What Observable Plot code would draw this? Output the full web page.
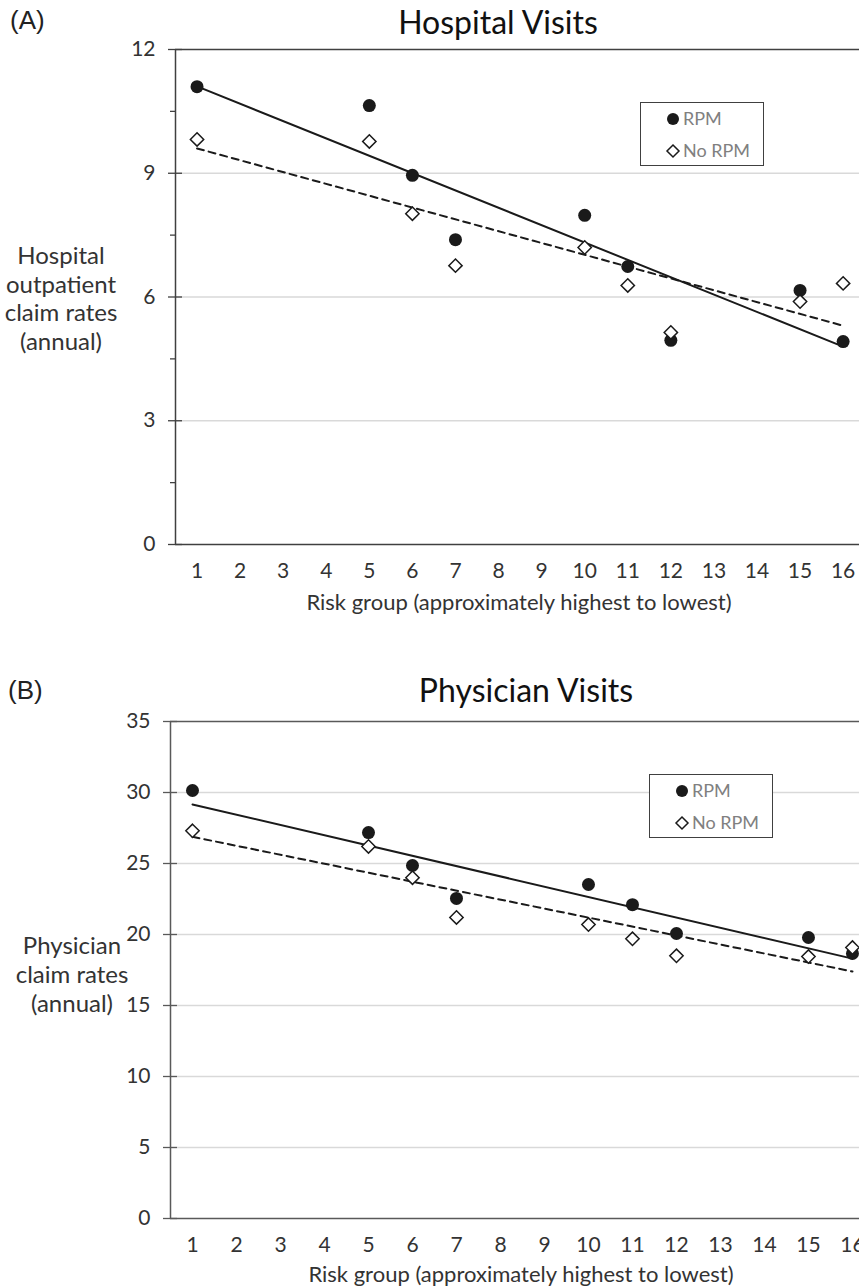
<!DOCTYPE html>
<html><head><meta charset="utf-8">
<script src="https://cdn.jsdelivr.net/npm/d3@7"></script>
<script src="https://cdn.jsdelivr.net/npm/@observablehq/plot@0.6"></script>
<style>
body{margin:0;background:#fff;}
#root{position:relative;width:859px;height:1288px;overflow:hidden;font-family:Lato,sans-serif;color:#333;}
.abs{position:absolute;white-space:nowrap;}
.panel-label{font-family:"Liberation Sans",Arial,sans-serif;font-size:26px;line-height:26px;color:#222;}
.title{font-size:32px;line-height:32px;color:#111;text-align:center;transform:translateX(-50%);}
.ylab{font-size:24px;text-align:center;transform:translateX(-50%);color:#333;}
.xlab{font-size:22px;line-height:22px;transform:translateX(-50%);color:#333;}
.legend{border:1px solid #404040;background:#fff;box-sizing:border-box;width:124px;height:64px;}
.legend span{position:absolute;left:42px;font-size:18px;line-height:18px;color:#808080;}
.legend svg{position:absolute;left:0;top:0;}
</style></head><body><div id="root"></div>
<script>
// ---- data ----
const groups = [1, 5, 6, 7, 10, 11, 12, 15, 16];
const hospRPM = [11.10, 10.64, 8.95, 7.39, 7.98, 6.74, 4.95, 6.16, 4.92];
const hospNoRPM = [9.82, 9.77, 8.02, 6.76, 7.20, 6.28, 5.14, 5.89, 6.33];
const physRPM = [30.14, 27.18, 24.86, 22.54, 23.52, 22.10, 20.07, 19.79, 18.66];
const physNoRPM = [27.3, 26.2, 24.0, 21.2, 20.7, 19.7, 18.5, 18.45, 19.08];
const xTicks = [1, 2, 3, 4, 5, 6, 7, 8, 9, 10, 11, 12, 13, 14, 15, 16];
const hospMajor = [0, 3, 6, 9, 12];
const hospMinor = [1.5, 4.5, 7.5, 10.5];
const hospGrid = [3, 6, 9];
const physMajor = [0, 5, 10, 15, 20, 25, 30, 35];
const physGrid = [5, 10, 15, 20, 25, 30];
const seriesNames = ["RPM", "No RPM"];

const root = document.getElementById("root");
function addDiv(cls, html, left, top, extra) {
  const d = document.createElement("div");
  d.className = "abs " + cls;
  d.innerHTML = html;
  d.style.left = left + "px";
  d.style.top = top + "px";
  if (extra) Object.assign(d.style, extra);
  root.appendChild(d);
  return d;
}

function panel({rpm, norpm, major, minor, grid, xmax, height, mt, mb, ml, axisColor}) {
  const rows = groups.map((g, i) => ({g, rpm: rpm[i], norpm: norpm[i]}));
  const ymax = major[major.length - 1];
  const marks = [
    Plot.gridY(grid, {stroke: "#d9d9d9", strokeOpacity: 1, strokeWidth: 1.3}),
    Plot.ruleY([major[0], ymax], {stroke: axisColor, strokeWidth: 1.5}),
    Plot.ruleX([0.5], {stroke: axisColor, strokeWidth: 1.5}),
    Plot.axisY(major, {tickSize: 14, dx: 7, tickFormat: () => "", stroke: axisColor, strokeWidth: 1.3, label: null}),
  ];
  if (minor) marks.push(Plot.axisY(minor, {tickSize: 5, tickFormat: () => "", stroke: axisColor, strokeWidth: 1.3, label: null}));
  marks.push(
    Plot.axisY(major, {tickSize: 0, tickPadding: 20, fontSize: 21, label: null}),
    Plot.axisX(xTicks, {tickSize: 0, tickPadding: 19, fontSize: 21, label: null}),
    Plot.linearRegressionY(rows, {x: "g", y: "norpm", ci: 0, stroke: "#1a1a1a", strokeWidth: 2, strokeDasharray: "7,5"}),
    Plot.linearRegressionY(rows, {x: "g", y: "rpm", ci: 0, stroke: "#1a1a1a", strokeWidth: 2}),
    Plot.dot(rows, {x: "g", y: "rpm", symbol: "circle", r: 6.5, fill: "#1a1a1a", stroke: "none"}),
    Plot.dot(rows, {x: "g", y: "norpm", symbol: "diamond2", r: 6, fill: "white", stroke: "#1a1a1a", strokeWidth: 1.5})
  );
  return Plot.plot({
    width: 859, height, marginTop: mt, marginBottom: mb, marginLeft: ml, marginRight: 0,
    x: {domain: [0.5, xmax], label: null},
    y: {domain: [0, ymax], label: null},
    style: {fontFamily: "Lato, sans-serif", fontSize: "21px", color: "#333", background: "transparent"},
    marks
  });
}

function legend(left, top) {
  const box = addDiv("legend", "", left, top);
  box.innerHTML = `<svg width="122" height="62">
    <circle cx="32" cy="16" r="6" fill="#1a1a1a"/>
    <path d="M32,42 L38,48 L32,54 L26,48 Z" fill="white" stroke="#1a1a1a" stroke-width="1.5"/>
  </svg><span style="top:6px">${seriesNames[0]}</span><span style="top:38px">${seriesNames[1]}</span>`;
}

// Panel A
const A = panel({rpm: hospRPM, norpm: hospNoRPM, major: hospMajor, minor: hospMinor, grid: hospGrid,
  xmax: 16.38, height: 590, mt: 49, mb: 46, ml: 175, axisColor: "#404040"});
A.style.position = "absolute"; A.style.left = "0px"; A.style.top = "0px";
root.appendChild(A);

// Panel B
const B = panel({rpm: physRPM, norpm: physNoRPM, major: physMajor, minor: null, grid: physGrid,
  xmax: 16.16, height: 638, mt: 71, mb: 70, ml: 170, axisColor: "#595959"});
B.style.position = "absolute"; B.style.left = "0px"; B.style.top = "650px";
root.appendChild(B);

addDiv("panel-label", "(A)", 10, 7);
addDiv("title", "Hospital Visits", 498, 6);
addDiv("ylab", "Hospital<br>outpatient<br>claim rates<br>(annual)", 61, 241, {lineHeight: "28.5px"});
addDiv("xlab", "Risk group (approximately highest to lowest)", 519, 591);
legend(640, 102);

addDiv("panel-label", "(B)", 8, 677);
addDiv("title", "Physician Visits", 526, 674);
addDiv("ylab", "Physician<br>claim rates<br>(annual)", 72, 930, {lineHeight: "29px"});
addDiv("xlab", "Risk group (approximately highest to lowest)", 521, 1263);
legend(649, 774);
</script></body></html>
